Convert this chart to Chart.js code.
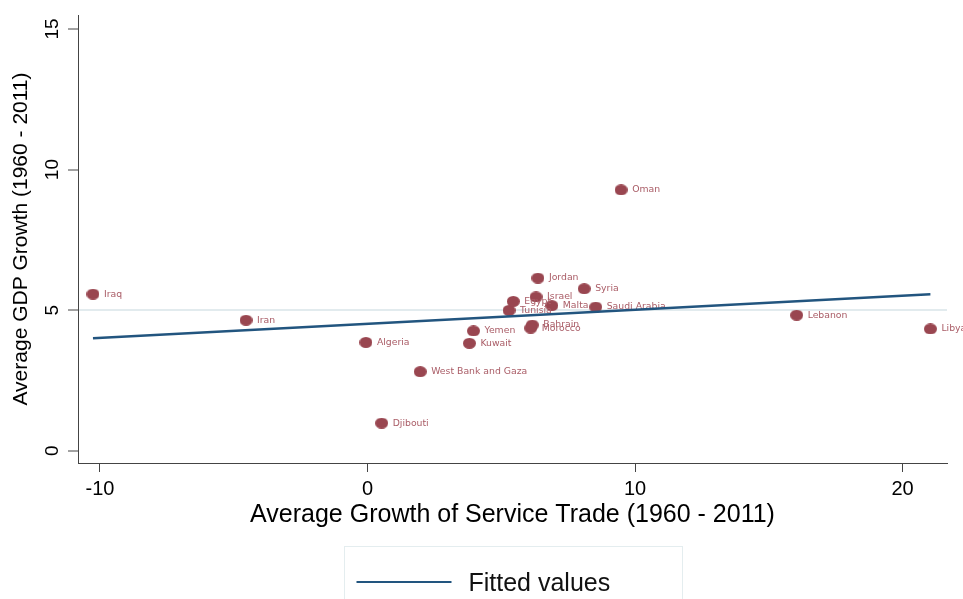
<!DOCTYPE html>
<html>
<head>
<meta charset="utf-8">
<title>Service trade and GDP growth</title>
<script src="https://cdn.jsdelivr.net/npm/chart.js@4.4.1/dist/chart.umd.min.js"></script>
<style>
  html, body { margin: 0; padding: 0; background: #fff; }
  #wrap { width: 963px; height: 599px; }
</style>
</head>
<body>
<div id="wrap"><canvas id="scatter" width="963" height="599"></canvas></div>
<script>
// country averages, 1960 - 2011
const countries = ['Iraq', 'Iran', 'Algeria', 'Djibouti', 'West Bank and Gaza', 'Yemen', 'Kuwait',
  'Tunisia', 'Egypt', 'Israel', 'Jordan', 'Malta', 'Syria', 'Saudi Arabia', 'Bahrain', 'Morocco',
  'Oman', 'Lebanon', 'Libya'];
const serviceGrowth = [-10.26, -4.54, -0.06, 0.53, 1.97, 3.96, 3.81,
  5.29, 5.45, 6.30, 6.37, 6.89, 8.10, 8.53, 6.16, 6.10,
  9.48, 16.04, 21.04];
const gdpGrowth = [5.57, 4.64, 3.85, 0.98, 2.81, 4.26, 3.82,
  4.99, 5.31, 5.47, 6.14, 5.16, 5.76, 5.11, 4.47, 4.36,
  9.28, 4.82, 4.33];

// linear fit, drawn across the x range of the data
const fitX = [-10.26, 21.04];
const fitY = [4.00, 5.56];

const xTicks = [-10, 0, 10, 20];
const yTicks = [0, 5, 10, 15];
const refLine = 5;
const legendLabel = 'Fitted values';

const maroon = '#994650';
const labelColor = '#aa5d67';
const navy = '#22557f';
const axisColor = '#444';
const sans = 'Liberation Sans';

// slightly wide oval markers
function ovalMarker(w, h, color) {
  const c = document.createElement('canvas');
  c.width = w;
  c.height = h;
  const g = c.getContext('2d');
  g.fillStyle = color;
  g.beginPath();
  g.ellipse(w / 2, h / 2, w / 2, h / 2, 0, 0, Math.PI * 2);
  g.fill();
  return c;
}

// country names to the right of each marker
const pointLabels = {
  id: 'pointLabels',
  afterDatasetDraw(chart, args) {
    if (args.index !== 1) return;
    const ctx = chart.ctx;
    ctx.save();
    ctx.font = '9.3px "DejaVu Sans"';
    ctx.fillStyle = labelColor;
    ctx.textBaseline = 'middle';
    ctx.textAlign = 'left';
    args.meta.data.forEach((pt, i) => {
      ctx.fillText(countries[i], pt.x + 11, pt.y);
    });
    ctx.restore();
  }
};

// boxed legend under the x axis title
const boxedLegend = {
  id: 'boxedLegend',
  afterDraw(chart) {
    const {ctx, chartArea} = chart;
    const cx = (chartArea.left + chartArea.right) / 2;
    const left = Math.round(cx - 169) + 0.5;
    const top = chart.height - 52.5;
    ctx.save();
    ctx.strokeStyle = '#e4edef';
    ctx.lineWidth = 1;
    ctx.strokeRect(left, top, 338, 80);
    ctx.strokeStyle = navy;
    ctx.lineWidth = 2;
    ctx.beginPath();
    ctx.moveTo(left + 12, top + 35.5);
    ctx.lineTo(left + 107, top + 35.5);
    ctx.stroke();
    ctx.font = '25px "' + sans + '"';
    ctx.fillStyle = '#111';
    ctx.textBaseline = 'alphabetic';
    ctx.textAlign = 'left';
    ctx.fillText(legendLabel, left + 124, top + 44.5);
    ctx.restore();
  }
};

new Chart(document.getElementById('scatter'), {
  type: 'scatter',
  data: {
    datasets: [
      {
        label: legendLabel,
        data: fitX.map((x, i) => ({x: x, y: fitY[i]})),
        showLine: true,
        borderColor: navy,
        borderWidth: 2.5,
        pointRadius: 0,
        fill: false,
        order: 0
      },
      {
        label: 'Countries',
        data: serviceGrowth.map((x, i) => ({x: x, y: gdpGrowth[i]})),
        pointStyle: ovalMarker(13, 11, maroon),
        pointRadius: 6,
        order: 1
      }
    ]
  },
  options: {
    responsive: false,
    devicePixelRatio: 1,
    animation: false,
    layout: {padding: {left: 0, top: 15, right: 16, bottom: 61}},
    plugins: {
      legend: {display: false},
      tooltip: {enabled: false}
    },
    scales: {
      x: {
        type: 'linear',
        min: -10.82,
        max: 21.66,
        afterBuildTicks: s => { s.ticks = xTicks.map(v => ({value: v})); },
        afterFit: s => { s.height = 75; s.paddingLeft = 0; s.paddingRight = 0; },
        border: {display: true, color: axisColor, width: 1},
        grid: {drawOnChartArea: false, color: axisColor, tickColor: axisColor, tickLength: 9, tickWidth: 1},
        ticks: {color: '#000', font: {family: sans, size: 20}, padding: 5, minRotation: 0, maxRotation: 0},
        title: {
          display: true,
          text: 'Average Growth of Service Trade (1960 - 2011)',
          color: '#000',
          font: {family: sans, size: 25},
          padding: {top: 0, bottom: 8}
        }
      },
      y: {
        type: 'linear',
        min: -0.44,
        max: 15.5,
        afterBuildTicks: s => { s.ticks = yTicks.map(v => ({value: v})); },
        afterFit: s => { s.width = 78; s.paddingTop = 0; s.paddingBottom = 0; },
        border: {display: true, color: axisColor, width: 1},
        grid: {
          color: c => (c.tick && c.tick.value === refLine) ? '#e2ebee' : 'rgba(0,0,0,0)',
          lineWidth: 2,
          tickColor: axisColor,
          tickLength: 10,
          tickWidth: 1
        },
        ticks: {
          color: '#000',
          font: {family: sans, size: 19},
          minRotation: 90,
          maxRotation: 90,
          crossAlign: 'center',
          padding: 5
        },
        title: {
          display: true,
          text: 'Average GDP Growth (1960 - 2011)',
          color: '#000',
          font: {family: sans, size: 21},
          padding: {top: 9, bottom: 0}
        }
      }
    }
  },
  plugins: [pointLabels, boxedLegend]
});
</script>
</body>
</html>
